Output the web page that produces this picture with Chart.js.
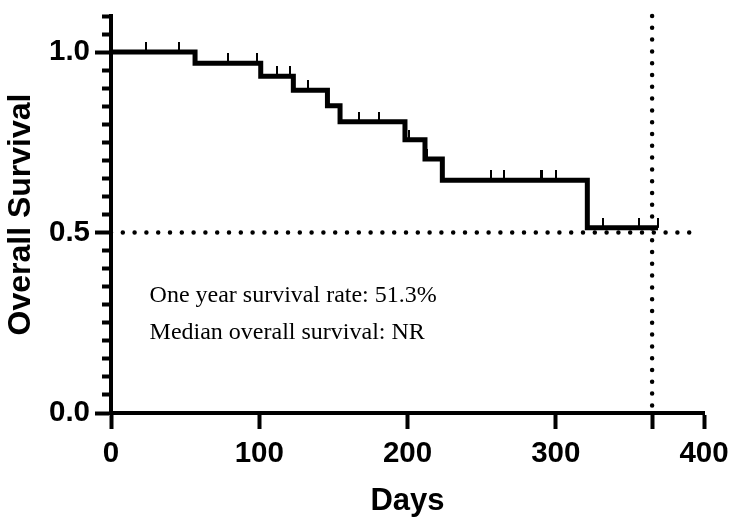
<!DOCTYPE html>
<html>
<head>
<meta charset="utf-8">
<script src="https://cdn.jsdelivr.net/npm/chart.js@4.4.1/dist/chart.umd.min.js"></script>
<style>
  body { margin: 0; background: #fff; }
  #km { display: block; }
</style>
</head>
<body>
<canvas id="km" width="744" height="528"></canvas>
<script>
// Kaplan-Meier steps (day of event, survival after it)
const stepDays = [0, 56.7, 101, 123, 146, 154.5, 198.3, 211.8, 223.5, 321.3, 369];
const stepSurvival = [1.0, 0.969, 0.933, 0.894, 0.851, 0.807, 0.757, 0.704, 0.645, 0.513, 0.513];

// censored patients
const censorDays = [23.6, 45.7, 78.7, 98.5, 112, 120.5, 132.6, 167.5, 180.8, 201, 213,
  256.3, 264.9, 289.9, 291, 300.2, 332, 356, 369];
const censorSurvival = [1.0, 1.0, 0.969, 0.969, 0.933, 0.933, 0.894, 0.807, 0.807, 0.757, 0.704,
  0.645, 0.645, 0.645, 0.645, 0.645, 0.513, 0.513, 0.513];

// reference lines
const medianLevel = 0.5;
const medianLineEnd = 395;
const oneYearDay = 365;

const xTickValues = [0, 100, 200, 300, 365, 400];
const xTickLabels = ['0', '100', '200', '300', '', '400'];
const yMajorTicks = [0, 0.5, 1.0];
const yMajorLabels = ['0.0', '0.5', '1.0'];

const notes = ['One year survival rate: 51.3%', 'Median overall survival: NR'];

const sans = '"Liberation Sans", Arial, sans-serif';

// small upward tick used as censor mark
const censorMark = document.createElement('canvas');
censorMark.width = 2;
censorMark.height = 20;
const cm = censorMark.getContext('2d');
cm.fillStyle = '#000';
cm.fillRect(0, 0, 2, 10);

function isMajorY(v) {
  return yMajorTicks.some(m => Math.abs(m - v) < 1e-6);
}

const notesPlugin = {
  id: 'notes',
  afterDatasetsDraw(chart) {
    const ctx = chart.ctx;
    const x = chart.scales.x.getPixelForValue(26);
    ctx.save();
    ctx.fillStyle = '#000';
    ctx.font = '24px "Liberation Serif", "Times New Roman", serif';
    ctx.textBaseline = 'alphabetic';
    ctx.fillText(notes[0], x, 302);
    ctx.fillText(notes[1], x, 339);
    ctx.restore();
  }
};

new Chart(document.getElementById('km'), {
  type: 'scatter',
  data: {
    datasets: [
      {
        data: stepDays.map((d, i) => ({ x: d, y: stepSurvival[i] })),
        showLine: true,
        stepped: true,
        borderColor: '#000',
        borderWidth: 5,
        borderJoinStyle: 'miter',
        pointRadius: 0,
        clip: 8
      },
      {
        data: censorDays.map((d, i) => ({ x: d, y: censorSurvival[i] })),
        showLine: false,
        pointStyle: censorMark,
        pointRadius: 10,
        clip: 12
      },
      {
        data: [{ x: 0, y: medianLevel }, { x: medianLineEnd, y: medianLevel }],
        showLine: true,
        borderColor: '#000',
        borderWidth: 4.5,
        borderDash: [0, 11.8],
        borderCapStyle: 'round',
        pointRadius: 0
      },
      {
        data: [{ x: oneYearDay, y: 1.1 }, { x: oneYearDay, y: 0 }],
        showLine: true,
        borderColor: '#000',
        borderWidth: 4.5,
        borderDash: [0, 11.8],
        borderCapStyle: 'round',
        pointRadius: 0,
        clip: 8
      }
    ]
  },
  options: {
    responsive: false,
    animation: false,
    layout: { autoPadding: false, padding: { left: 0, top: 16, right: 40, bottom: 0 } },
    plugins: { legend: { display: false }, tooltip: { enabled: false } },
    scales: {
      x: {
        type: 'linear',
        min: 0,
        max: 400,
        afterBuildTicks: (s) => { s.ticks = xTickValues.map(v => ({ value: v })); },
        afterFit: (s) => { s.height = 115; s.paddingLeft = 0; s.paddingRight = 0; },
        border: { color: '#000', width: 4 },
        grid: { drawOnChartArea: false, drawTicks: true, tickLength: 16, tickWidth: 4, tickColor: '#000' },
        ticks: {
          color: '#000',
          padding: 7,
          maxRotation: 0,
          autoSkip: false,
          font: { family: sans, size: 29.5, weight: 'bold' },
          callback: (v) => xTickLabels[xTickValues.indexOf(v)] ?? ''
        },
        title: {
          display: true,
          text: 'Days',
          color: '#000',
          padding: { top: 0, bottom: 8 },
          font: { family: sans, size: 31, weight: 'bold' }
        }
      },
      y: {
        min: 0,
        max: 1.1,
        afterFit: (s) => { s.width = 111; s.paddingTop = 0; s.paddingBottom = 0; },
        border: { color: '#000', width: 4 },
        grid: {
          drawOnChartArea: false,
          drawTicks: true,
          tickLength: 16,
          tickWidth: 4,
          tickColor: '#000',
          tickBorderDash: (c) => (c.tick && isMajorY(c.tick.value)) ? [] : [0, 7, 9, 50]
        },
        ticks: {
          stepSize: 0.05,
          color: '#000',
          padding: 5,
          autoSkip: false,
          font: { family: sans, size: 29.5, weight: 'bold' },
          callback: (v) => {
            const i = yMajorTicks.findIndex(m => Math.abs(m - v) < 1e-6);
            return i >= 0 ? yMajorLabels[i] : '';
          }
        },
        title: {
          display: true,
          text: 'Overall Survival',
          color: '#000',
          padding: { top: 2, bottom: 0 },
          font: { family: sans, size: 32, weight: 'bold' }
        }
      }
    }
  },
  plugins: [notesPlugin]
});
</script>
</body>
</html>
